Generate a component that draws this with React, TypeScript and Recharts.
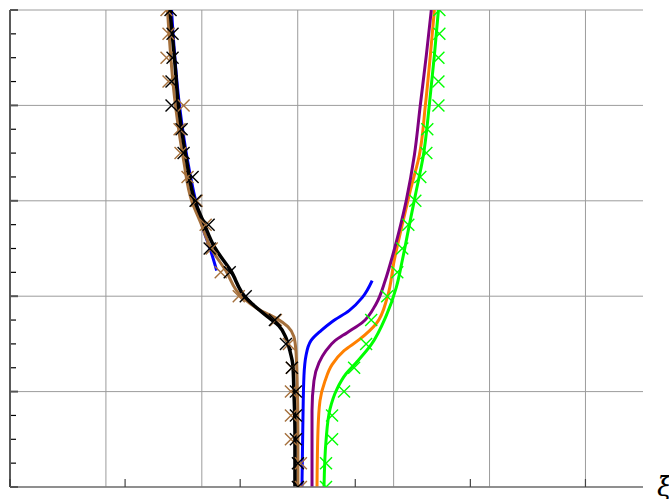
import {
  ComposedChart,
  Line,
  Scatter,
  XAxis,
  YAxis,
  CartesianGrid,
  Label,
} from "recharts";

// horizontal coordinate (xi-bar) and vertical coordinate, both in grid units
const xGrid = [0, 1, 2, 3, 4, 5, 6];
const xTicks = [0, 1.2, 2.4, 3.6, 4.8, 6];
const yMajor = [0, 1, 2, 3, 4, 5];
const yMinor = [0.25, 0.5, 0.75, 1.25, 1.5, 1.75, 2.25, 2.5, 2.75, 3.25, 3.5, 3.75, 4.25, 4.5, 4.75];

// curves, listed bottom to top as [x, y]
const blackCurve = [
  [2.971, 0], [2.971, 0.588], [2.96, 1.008], [2.95, 1.271], [2.918, 1.429], [2.877, 1.565],
  [2.803, 1.691], [2.699, 1.775], [2.458, 1.985], [2.301, 2.269], [2.134, 2.511], [2.019, 2.773],
  [1.925, 3.004], [1.841, 3.424], [1.757, 3.992], [1.715, 4.496], [1.668, 5],
];
const brownCurve = [
  [3.002, 0], [3.002, 0.588], [2.992, 1.166], [2.981, 1.429], [2.96, 1.576], [2.897, 1.681],
  [2.782, 1.765], [2.615, 1.849], [2.427, 1.985], [2.249, 2.269], [2.092, 2.511], [1.987, 2.773],
  [1.893, 3.004], [1.81, 3.424], [1.726, 3.992], [1.642, 5],
];
const blueUpper = [
  [2.155, 2.269], [2.092, 2.479], [2.019, 2.689], [1.935, 3.004], [1.851, 3.424], [1.768, 3.992], [1.684, 5],
];
const blueLower = [
  [3.044, 0], [3.054, 0.693], [3.065, 1.166], [3.086, 1.376], [3.138, 1.534], [3.243, 1.639],
  [3.358, 1.733], [3.536, 1.849], [3.672, 1.985], [3.776, 2.164],
];
const purpleCurve = [
  [3.149, 0], [3.149, 0.798], [3.169, 1.113], [3.222, 1.303], [3.295, 1.429], [3.389, 1.534],
  [3.515, 1.618], [3.672, 1.723], [3.818, 1.922], [3.912, 2.164], [3.975, 2.374], [4.059, 2.689],
  [4.132, 3.004], [4.216, 3.477], [4.278, 4.002], [4.341, 4.527], [4.393, 5],
];
const orangeCurve = [
  [3.201, 0], [3.211, 0.588], [3.232, 0.903], [3.285, 1.113], [3.358, 1.282], [3.483, 1.429],
  [3.64, 1.544], [3.818, 1.712], [3.933, 1.985], [4.006, 2.374], [4.1, 2.794], [4.174, 3.109],
  [4.268, 3.477], [4.331, 4.002], [4.383, 4.527], [4.425, 5],
];
const greenCurve = [
  [3.274, 0], [3.295, 0.483], [3.337, 0.819], [3.41, 1.029], [3.504, 1.187], [3.609, 1.303],
  [3.766, 1.492], [3.923, 1.796], [4.027, 2.09], [4.09, 2.374], [4.163, 2.742], [4.226, 3.057],
  [4.31, 3.477], [4.372, 4.002], [4.425, 4.527], [4.467, 5],
];

// sampled points, one per level (top to bottom)
const markerLevels = [5, 4.75, 4.5, 4.25, 4, 3.75, 3.5, 3.25, 3, 2.75, 2.5, 2.25, 2, 1.75, 1.5, 1.25, 1, 0.75, 0.5, 0.25, 0];
const blackSamples = [
  1.674, 1.695, 1.695, 1.684, 1.684, 1.789, 1.81, 1.904, 1.935, 2.071, 2.082,
  2.291, 2.458, 2.762, 2.877, 2.939, 2.981, 2.981, 2.981, 3.002, 3.002,
];
const brownSamples = [
  1.632, 1.653, 1.632, 1.653, 1.81, 1.768, 1.778, 1.851, 1.946, 2.04, 2.103,
  2.197, 2.385, 2.772, 2.908, 2.939, 2.929, 2.929, 2.929, 3.033, 3.033,
];
const greenSamples = [
  4.477, 4.477, 4.467, 4.467, 4.467, 4.351, 4.341, 4.278, 4.226, 4.153, 4.09,
  4.038, 3.933, 3.766, 3.713, 3.588, 3.483, 3.358, 3.358, 3.295, 3.295,
];

const toPoints = (pts: number[][]) => pts.map(([x, y]) => ({ x, y }));
const toSamples = (xs: number[]) => xs.map((x, i) => ({ x, y: markerLevels[i] }));

const crossShape = (color: string) => (props: any) => {
  const { cx, cy } = props;
  if (cx == null || cy == null) return <g />;
  const r = 6;
  return (
    <path
      d={`M${cx - r},${cy - r}L${cx + r},${cy + r}M${cx - r},${cy + r}L${cx + r},${cy - r}`}
      stroke={color}
      strokeWidth={1.4}
      fill="none"
    />
  );
};

// axes carry tick marks only, no tick text
const NoTickText = () => <g />;

const XiLabel = (props: any) => {
  const vb = props.viewBox || {};
  return (
    <text
      x={vb.x + vb.width + 14}
      y={vb.y + 9}
      fontFamily="DejaVu Serif"
      fontStyle="italic"
      fontSize={27}
      fill="#000"
    >
      ξ̄
    </text>
  );
};

const curve = (data: number[][], color: string, width = 3) => (
  <Line
    data={toPoints(data)}
    dataKey="y"
    type="monotoneY"
    stroke={color}
    strokeWidth={width}
    dot={false}
    activeDot={false}
    isAnimationActive={false}
  />
);

const samples = (xs: number[], color: string) => (
  <Scatter
    data={toSamples(xs)}
    dataKey="y"
    shape={crossShape(color)}
    isAnimationActive={false}
  />
);

export default function App() {
  return (
    <div style={{ position: "absolute", left: 0, top: 0, width: 669, height: 499, overflow: "hidden", background: "#fff" }}>
      <ComposedChart width={669} height={499} margin={{ top: 10, right: 26, bottom: 11, left: 10 }}>
        <CartesianGrid
          stroke="#9c9c9c"
          strokeWidth={1}
          verticalValues={xGrid}
          horizontalValues={yMajor}
        />
        <XAxis
          type="number"
          dataKey="x"
          domain={[0, 6.6]}
          ticks={xGrid}
          allowDataOverflow
          tick={NoTickText}
          tickLine={false}
          axisLine={{ stroke: "#7a7a7a", strokeWidth: 1.5 }}
          height={1}
        >
          <Label content={XiLabel} />
        </XAxis>
        <XAxis
          xAxisId="ticks"
          type="number"
          dataKey="x"
          domain={[0, 6.6]}
          ticks={xTicks}
          allowDataOverflow
          mirror
          tick={NoTickText}
          tickSize={8}
          tickLine={{ stroke: "#444", strokeWidth: 1.2 }}
          axisLine={false}
          height={1}
        />
        <YAxis
          type="number"
          domain={[0, 5]}
          ticks={yMajor}
          allowDataOverflow
          mirror
          tick={NoTickText}
          tickSize={8}
          tickLine={{ stroke: "#555", strokeWidth: 2 }}
          axisLine={{ stroke: "#333", strokeWidth: 1.5 }}
          width={1}
        />
        <YAxis
          yAxisId="minor"
          type="number"
          domain={[0, 5]}
          ticks={yMinor}
          allowDataOverflow
          mirror
          tick={NoTickText}
          tickSize={5}
          tickLine={{ stroke: "#000", strokeWidth: 1.2 }}
          axisLine={false}
          width={1}
        />
        {curve(greenCurve, "#00ff00")}
        {samples(greenSamples, "#00ff00")}
        {curve(orangeCurve, "#ff8000")}
        {curve(purpleCurve, "#800080")}
        {curve(blueUpper, "#0000ff")}
        {curve(blueLower, "#0000ff")}
        {curve(brownCurve, "#a5703c")}
        {samples(brownSamples, "#a5703c")}
        {curve(blackCurve, "#000000", 3.5)}
        {samples(blackSamples, "#000000")}
      </ComposedChart>
    </div>
  );
}
